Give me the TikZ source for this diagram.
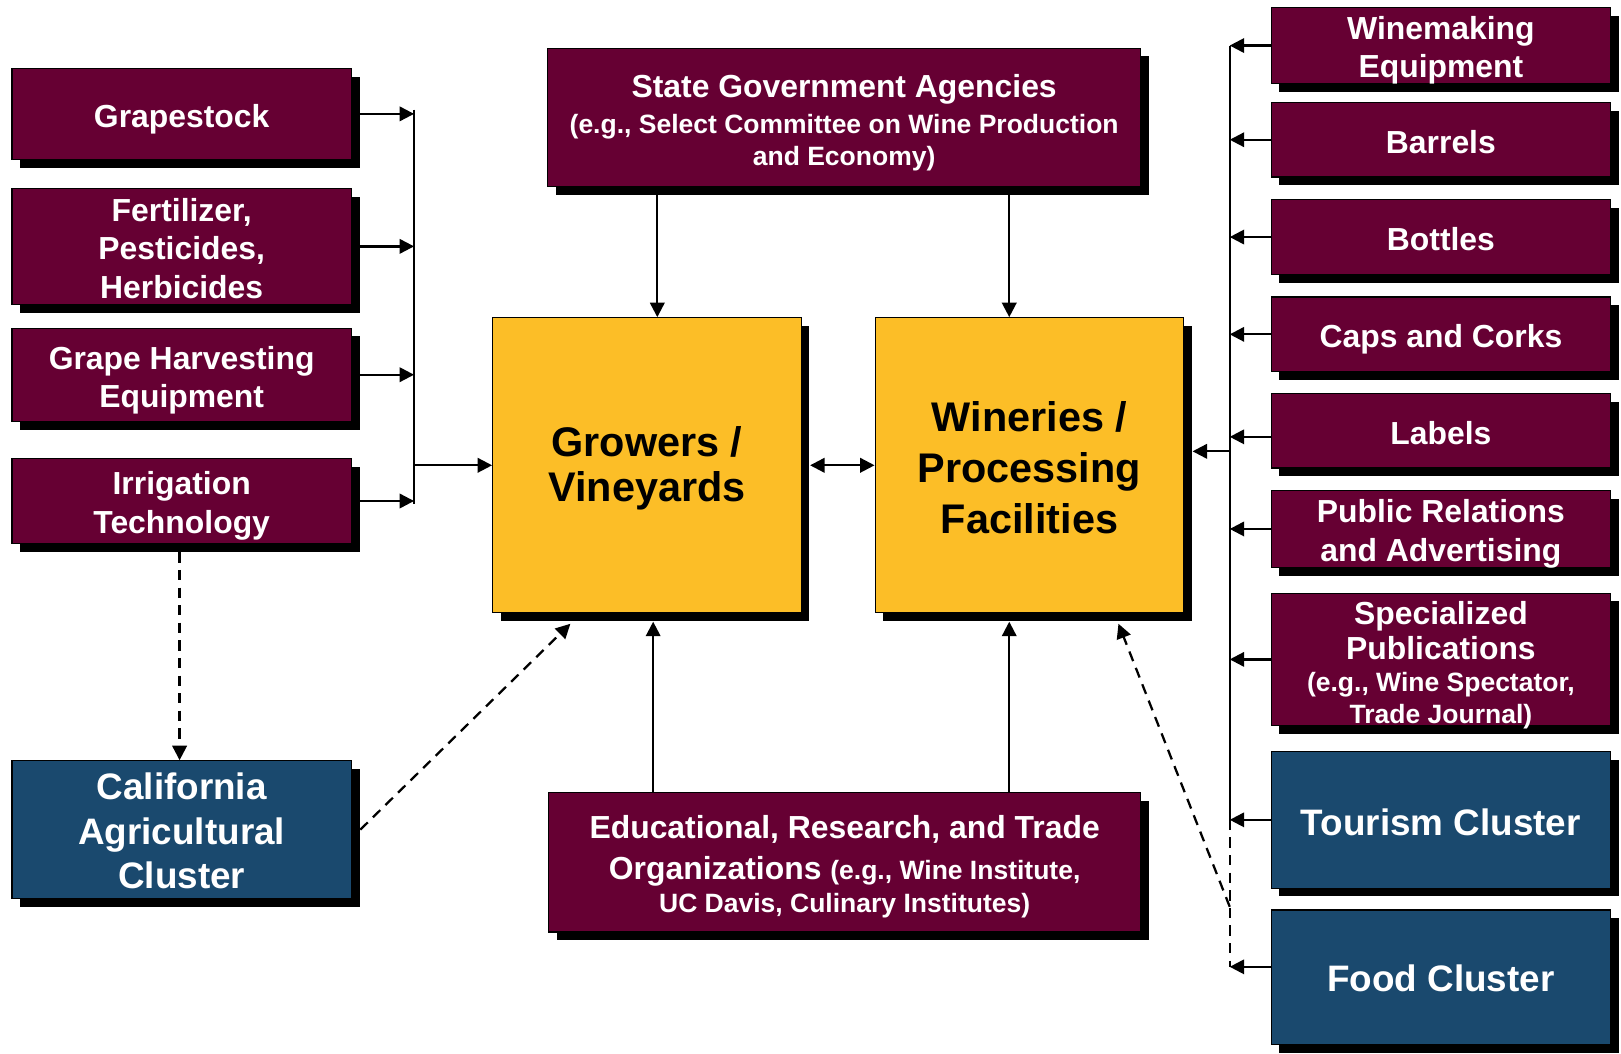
\documentclass[tikz,border=0pt]{standalone}
\usepackage{fontspec}
\setmainfont{Liberation Sans}
\usetikzlibrary{positioning,shadows,calc,arrows.meta}
\definecolor{maroon}{RGB}{102,0,51}
\definecolor{steel}{RGB}{26,73,110}
\definecolor{gold}{RGB}{252,190,39}
\newcommand{\smallnote}{\fontsize{12.8}{15}\selectfont}
% #1 trims the text box, #2 moves the text down inside its box
\newcommand{\boxtext}[3][0pt]{\raisebox{0pt}[\dimexpr\height+#2-#1\relax][\dimexpr\depth-#2-#1\relax]{\begin{tabular}{@{}c@{}}#3\end{tabular}}}
\tikzset{
  box/.style={draw=black,line width=0.6pt,inner sep=0pt,
    drop shadow={shadow xshift=4pt,shadow yshift=-4pt,opacity=1,fill=black}},
  supply/.style={box,fill=maroon,text=white,minimum width=164pt,
    font=\bfseries\fontsize{15.4}{18.5}\selectfont},
  cluster/.style={box,fill=steel,text=white,minimum width=164pt,
    font=\bfseries\fontsize{17.8}{21.5}\selectfont},
  core/.style={box,fill=gold,text=black,minimum width=149pt,minimum height=142.5pt,
    font=\bfseries\fontsize{20}{21.75}\selectfont},
  arr/.style={-{Triangle[length=7pt,width=7pt]},line width=1.1pt},
  arrboth/.style={{Triangle[length=7pt,width=7pt]}-{Triangle[length=7pt,width=7pt]},line width=1.1pt},
  darr/.style={arr,dash pattern=on 5pt off 3.5pt},
}
\begin{document}
\begin{tikzpicture}[x=0.5pt,y=-0.5pt]
    \useasboundingbox (0,0) rectangle (1566,1018);
    \node[supply,minimum height=44pt] (grape) at (175.5,110) {\boxtext{2.8pt}{Grapestock}};
    \node[supply,minimum height=56pt] (fert) at (175.5,238) {\boxtext{2.8pt}{Fertilizer,\\Pesticides,\\Herbicides}};
    \node[supply,minimum height=45pt] (harv) at (175.5,362) {\boxtext{2.8pt}{Grape Harvesting\\Equipment}};
    \node[supply,minimum height=41pt] (irr) at (175.5,484) {\boxtext{2.6pt}{Irrigation\\Technology}};
    \node[cluster,minimum height=66.5pt] (agri) at (175.5,801.5) {\boxtext{2.8pt}{California\\Agricultural\\Cluster}};
    \node[supply,minimum width=286.5pt,minimum height=67pt,font=\bfseries\fontsize{15.4}{17.25}\selectfont] (gov) at (815.5,113.5)
        {\boxtext{3.5pt}{State Government Agencies\\{\smallnote (e.g., Select Committee on Wine Production}\\[-1.75pt]{\smallnote and Economy)}}};
    \node[core] (grow) at (625,449.5) {\boxtext{2.4pt}{Growers /\\Vineyards}};
    \node[core,font=\bfseries\fontsize{20}{24.5}\selectfont] (wine) at (994.5,449.5) {\boxtext{3.5pt}{Wineries /\\Processing\\Facilities}};
    \node[supply,minimum width=286pt,minimum height=67.25pt,font=\bfseries\fontsize{15.4}{19.5}\selectfont] (edu) at (816,833)
        {\boxtext{2.55pt}{Educational, Research, and Trade\\Organizations {\smallnote (e.g., Wine Institute,}\\[-3.5pt]{\smallnote UC Davis, Culinary Institutes)}}};
    \node[supply,minimum height=36pt] (wme) at (1392,44) {\boxtext{2.6pt}{Winemaking\\Equipment}};
    \node[supply,minimum height=36pt] (bar) at (1392,135) {\boxtext{2.8pt}{Barrels}};
    \node[supply,minimum height=36pt] (btl) at (1392,229) {\boxtext{2.8pt}{Bottles}};
    \node[supply,minimum height=36pt] (cap) at (1392,323) {\boxtext{2.8pt}{Caps and Corks}};
    \node[supply,minimum height=36pt] (lab) at (1392,416) {\boxtext{2.8pt}{Labels}};
    \node[supply,minimum height=35pt] (pr) at (1392,511) {\boxtext{2.6pt}{Public Relations\\and Advertising}};
    \node[supply,minimum height=64pt] (pub) at (1392,637)
        {\boxtext[3pt]{3.35pt}{Specialized\\[-1.5pt]Publications\\[-3pt]{\smallnote (e.g., Wine Spectator,}\\[-3pt]{\smallnote Trade Journal)}}};
    \node[cluster,minimum height=66pt] (tour) at (1392,792) {\boxtext{3.5pt}{Tourism Cluster}};
    \node[cluster,minimum height=65pt] (food) at (1392,944) {\boxtext{2.6pt}{Food Cluster}};

    \coordinate (lbus) at (400,0);
    \foreach \n in {grape,fert,harv,irr}
        \draw[arr] (\n.east) -- (\n.east -| lbus);
    \draw[line width=1.1pt] ([yshift=2pt]grape.east -| lbus) -- ([yshift=-1.5pt]irr.east -| lbus);
    \draw[arr] (lbus |- grow.west) -- (grow.west);

    \coordinate (rbus) at (1188,0);
    \coordinate (labin) at ([yshift=-3pt]lab.west);
    \coordinate (foodin) at ([yshift=5pt]food.west);
    \foreach \n in {wme,bar,btl,cap,pr,pub,tour}
        \draw[arr] (\n.west) -- (\n.west -| rbus);
    \draw[arr] (labin) -- (labin -| rbus);
    \draw[arr] (foodin) -- (foodin -| rbus);
    \draw[line width=1.1pt] (wme.west -| rbus) -- (tour.west -| rbus);
    \draw[line width=1.1pt,dash pattern=on 5pt off 3.5pt] (tour.west -| rbus) -- (foodin -| rbus);
    \coordinate (rin) at (1188,436);
    \coordinate (wside) at ([xshift=4pt]wine.east);
    \draw[arr] (rin) -- (rin -| wside);

    \coordinate (gtop) at ([xshift=5pt]grow.north);
    \coordinate (wtop) at ([xshift=-9.75pt]wine.north);
    \coordinate (gbot) at ([xshift=3pt,yshift=-4pt]grow.south);
    \coordinate (wbot) at ([xshift=-9.75pt,yshift=-4pt]wine.south);
    \draw[arr] (gtop |- gov.south) -- (gtop);
    \draw[arr] (wtop |- gov.south) -- (wtop);
    \draw[arr] (gbot |- edu.north) -- (gbot);
    \draw[arr] (wbot |- edu.north) -- (wbot);
    \draw[arrboth] ([xshift=4pt]grow.east) -- (wine.west);

    \coordinate (fj) at (1188,876);
    \draw[darr] ([xshift=-1pt,yshift=-4pt]irr.south) -- ([xshift=-1pt]agri.north);
    \draw[darr] ([xshift=4pt]agri.east) -- ([xshift=-37pt,yshift=-5pt]grow.south);
    \draw[darr] (fj) -- ([xshift=43pt,yshift=-5pt]wine.south);
\end{tikzpicture}
\end{document}
